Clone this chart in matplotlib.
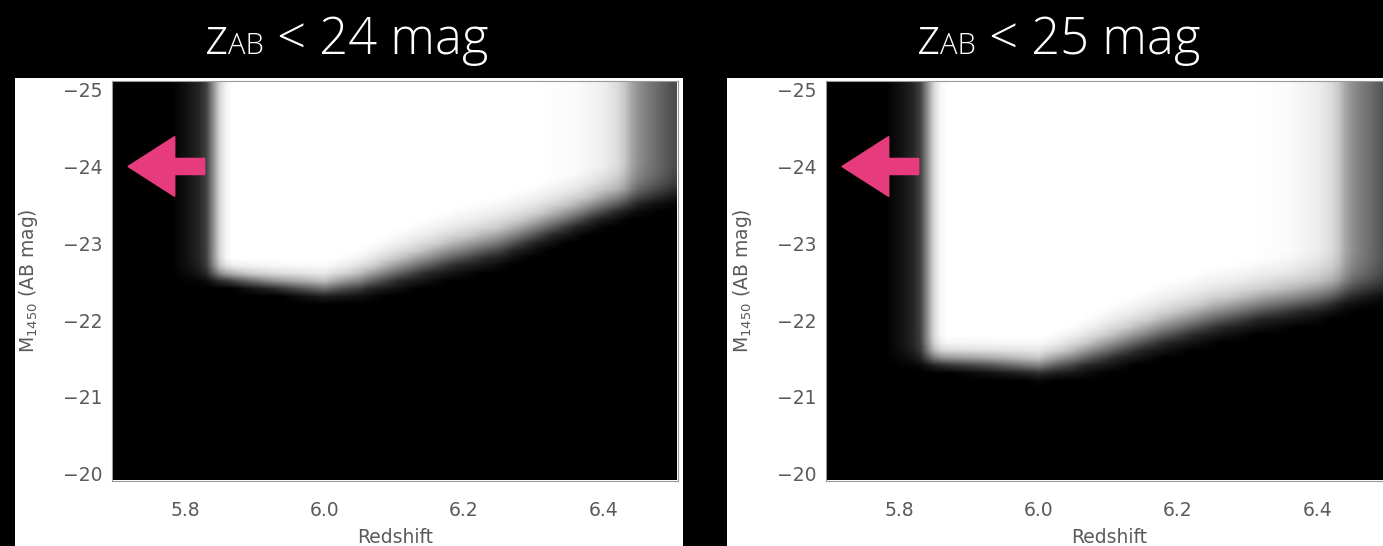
import numpy as np
import matplotlib.pyplot as plt
from matplotlib.patches import Rectangle, FancyArrow
from matplotlib.offsetbox import TextArea, HPacker, AnnotationBbox

# redshift selection efficiency (same colour cuts for both depths)
sel_z = [5.70, 5.78, 5.79, 5.80, 5.81, 5.82, 5.83, 5.84, 5.85, 5.86, 5.87,
         6.30, 6.36, 6.40, 6.42, 6.43, 6.44, 6.45, 6.46, 6.47, 6.48, 6.49, 6.50]
sel_eff = [0.0, 0.0, 0.03, 0.06, 0.10, 0.15, 0.25, 0.55, 0.85, 0.97, 1.0,
           1.0, 0.98, 0.93, 0.86, 0.78, 0.65, 0.56, 0.50, 0.45, 0.40, 0.35, 0.30]

# 50% completeness magnitude and half-width of the drop, vs redshift
bnd_z = [5.80, 5.86, 5.93, 6.00, 6.05, 6.10, 6.18, 6.25, 6.32, 6.40, 6.45, 6.50]
m50_24 = [-22.58, -22.56, -22.48, -22.42, -22.50, -22.64, -22.86, -23.02,
          -23.25, -23.50, -23.60, -23.66]
hw_24 = [0.15, 0.15, 0.17, 0.20, 0.26, 0.32, 0.36, 0.37, 0.35, 0.32, 0.27, 0.22]
m50_25 = [-21.50, -21.48, -21.45, -21.40, -21.50, -21.64, -21.88, -22.06,
          -22.20, -22.31, -22.39, -22.43]
hw_25 = [0.17, 0.17, 0.19, 0.22, 0.28, 0.34, 0.38, 0.39, 0.38, 0.36, 0.30, 0.24]

# shape of the magnitude drop (offset in half-widths -> fraction detected)
prof_u = [-1.6, -1.0, -0.5, 0.0, 0.5, 1.0]
prof_val = [1.0, 0.93, 0.80, 0.50, 0.15, 0.0]

titles = [('24', m50_24, hw_24), ('25', m50_25, hw_25)]
xticks = [5.8, 6.0, 6.2, 6.4]
yticks = [-25, -24, -23, -22, -21, -20]

W, H = 1383, 546
fig = plt.figure(figsize=(W / 100, H / 100), dpi=100)
fig.patch.set_facecolor('black')


def fx(px):
    return px / W


def fy(py):
    return 1 - py / H


zc = np.round(np.arange(5.70, 6.505, 0.01), 2)
mc = np.round(np.arange(-25.1, -19.85, 0.1), 2)
sel = np.interp(zc, sel_z, sel_eff)

panels = [(15, 683, 112, 347), (727, W, 826, 1059)]
for (bg0, bg1, axl, tx), (lim, m50, hw) in zip(panels, titles):
    fig.add_artist(Rectangle((fx(bg0), 0), fx(bg1 - bg0), 1 - 78 / H,
                             transform=fig.transFigure, facecolor='white',
                             edgecolor='none', zorder=-1))
    ax = fig.add_axes([fx(axl), fy(480.5), fx(566), 400 / H])

    mz = np.interp(zc, bnd_z, m50)
    wz = np.interp(zc, bnd_z, hw)
    u = (mc[:, None] - mz[None, :]) / wz[None, :]
    comp = np.interp(u, prof_u, prof_val) * sel[None, :]

    ax.imshow(comp, cmap='gray', vmin=0, vmax=1, aspect='auto',
              interpolation='bilinear', origin='upper',
              extent=(5.695, 6.505, -19.85, -25.15))
    ax.set_xlim(5.695, 6.507)
    ax.set_ylim(-19.91, -25.12)

    ax.add_patch(FancyArrow(5.828, -24, -0.110, 0, width=0.21,
                            head_width=0.78, head_length=0.067,
                            length_includes_head=True,
                            color='#e63c7d', zorder=5))

    ax.set_xticks(xticks)
    ax.set_xticklabels(['%.1f' % v for v in xticks])
    ax.set_yticks(yticks)
    ax.set_yticklabels(['\u2212%d' % -v for v in yticks])
    ax.tick_params(length=0, labelsize=13.5, labelcolor='#5a5a5a')
    ax.tick_params(axis='x', pad=14.5)
    ax.tick_params(axis='y', pad=6.5)
    for s in ax.spines.values():
        s.set_color('#999999')
        s.set_linewidth(0.8)
    ax.set_xlabel('Redshift', fontsize=13.5, color='#5a5a5a')
    ax.set_ylabel('M$_{1450}$ (AB mag)', fontsize=13.5, color='#5a5a5a')
    ax.xaxis.set_label_coords(0.5, -0.118)
    ax.yaxis.set_label_coords(-0.128, 0.5)

    big = dict(color='white', fontsize=36.5, family='Open Sans', weight='light')
    small = dict(color='white', fontsize=21, family='Open Sans', weight='light')
    pack = HPacker(children=[TextArea('z', textprops=big),
                             TextArea('AB', textprops=small),
                             TextArea(' < %s mag' % lim, textprops=big)],
                   align='baseline', pad=0, sep=0)
    fig.add_artist(AnnotationBbox(pack, (fx(tx), fy(40)),
                                  xycoords='figure fraction',
                                  box_alignment=(0.5, 0.5), frameon=False))

fig.savefig('out.png', dpi=100, facecolor='black')
